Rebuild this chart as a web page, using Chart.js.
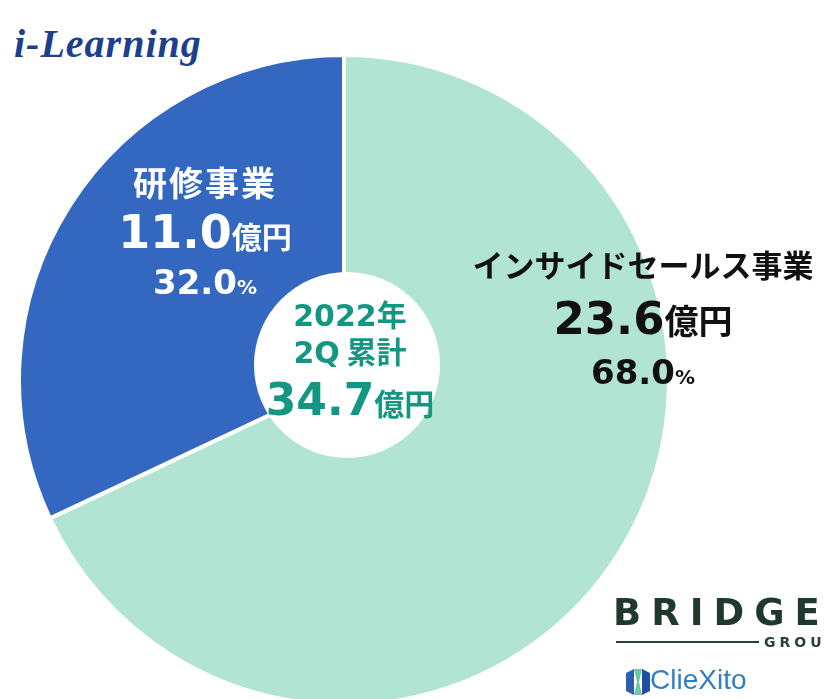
<!DOCTYPE html>
<html lang="ja">
<head>
<meta charset="utf-8">
<script src="https://cdn.jsdelivr.net/npm/chart.js@4"></script>
<style>
  html, body { margin: 0; padding: 0; background: #fff; width: 824px; height: 699px; overflow: hidden; }
  body { position: relative; font-family: "Noto Sans CJK JP", "DejaVu Sans", sans-serif; }
  #wrap { position: absolute; left: 17px; top: 53px; width: 654px; height: 654px; }
  .lbl { position: absolute; text-align: center; font-weight: bold; white-space: nowrap; line-height: 1; }
  .num { font-family: "DejaVu Sans", sans-serif; font-weight: bold; }
  .jp { font-family: "Noto Sans CJK JP", sans-serif; font-weight: bold; }
  #logo1 { position: absolute; left: 14px; top: 20px; font-family: "Liberation Serif", serif; font-style: italic; font-weight: bold; font-size: 40px; color: #1d3f8f; letter-spacing: 1px; }
  #bridge { position: absolute; left: 613px; top: 591px; font-family: "DejaVu Sans", sans-serif; font-weight: bold; font-size: 37px; color: #1f3a2d; letter-spacing: 10px; }
  #bridgeLine { position: absolute; left: 616px; top: 641px; width: 143px; height: 2px; background: #2a3f35; }
  #group { position: absolute; left: 764px; top: 634px; font-family: "DejaVu Sans", sans-serif; font-weight: bold; font-size: 14px; color: #2a3f35; letter-spacing: 4px; }
  #cliexito { position: absolute; left: 650px; top: 664px; font-family: "Liberation Sans", sans-serif; font-size: 28px; color: #2f7fc4; }
  #clieIcon { position: absolute; left: 626px; top: 669px; width: 24px; height: 26px; }
</style>
</head>
<body>
<div id="logo1">i-Learning</div>
<div id="wrap"><canvas id="pie"></canvas></div>

<div class="lbl" id="lblLeft" style="left:100px; top:165px; width:210px; color:#fff;">
  <div class="jp" style="font-size:34px; letter-spacing:2px;" id="nameLeft"></div>
  <div style="margin-top:10px;"><span class="num" style="font-size:46px;" id="amtLeft"></span><span class="jp" style="font-size:30px;">億円</span></div>
  <div style="margin-top:10px;"><span class="num" style="font-size:34px;" id="pctLeft"></span><span class="num" style="font-size:20px;">%</span></div>
</div>

<div class="lbl" id="lblRight" style="left:463px; top:248px; width:360px; color:#111;">
  <div class="jp" style="font-size:31px;" id="nameRight"></div>
  <div style="margin-top:17px;"><span class="num" style="font-size:45px;" id="amtRight"></span><span class="jp" style="font-size:34px;">億円</span></div>
  <div style="margin-top:14px;"><span class="num" style="font-size:34px;" id="pctRight"></span><span class="num" style="font-size:20px;">%</span></div>
</div>

<div class="lbl" id="lblCenter" style="left:250px; top:298px; width:200px; color:#139782;">
  <div style="font-size:30px;"><span class="num" id="yearTxt"></span><span class="jp">年</span></div>
  <div style="margin-top:4px; font-size:30px;"><span class="num">2Q</span><span class="jp"> 累計</span></div>
  <div style="margin-top:10px;"><span class="num" style="font-size:44px;" id="totalTxt"></span><span class="jp" style="font-size:30px;">億円</span></div>
</div>

<div id="bridge">BRIDGE</div>
<div id="bridgeLine"></div>
<div id="group">GROUP</div>
<svg id="clieIcon" viewBox="0 0 24 26">
  <polygon points="0,4 8,0 8,26 0,22" fill="#2c5fb0"/>
  <polygon points="8,0 16,0 13,13 16,26 8,26 11,13" fill="#6fc7a8"/>
  <polygon points="16,0 24,4 24,22 16,26" fill="#1f4f9e"/>
</svg>
<div id="cliexito">ClieXito</div>

<script>
const categories = ['インサイドセールス事業', '研修事業'];
const amounts = [23.6, 11.0];
const shares = [68.0, 32.0];
const totalAmount = 34.7;
const period = '2022';
const colors = ['#b1e4d2', '#3468c0'];

document.getElementById('nameRight').textContent = categories[0];
document.getElementById('amtRight').textContent = amounts[0].toFixed(1);
document.getElementById('pctRight').textContent = shares[0].toFixed(1);
document.getElementById('nameLeft').textContent = categories[1];
document.getElementById('amtLeft').textContent = amounts[1].toFixed(1);
document.getElementById('pctLeft').textContent = shares[1].toFixed(1);
document.getElementById('yearTxt').textContent = period;
document.getElementById('totalTxt').textContent = totalAmount.toFixed(1);

// white centre disc, sits a little above the pie centre like the original
const centreDisc = {
  id: 'centreDisc',
  afterDatasetsDraw(chart) {
    const arc = chart.getDatasetMeta(0).data[0];
    const ctx = chart.ctx;
    ctx.save();
    ctx.beginPath();
    ctx.arc(arc.x + 3, arc.y - 15, 93, 0, Math.PI * 2);
    ctx.fillStyle = '#fff';
    ctx.fill();
    ctx.restore();
  }
};

new Chart(document.getElementById('pie'), {
  type: 'pie',
  data: {
    labels: categories,
    datasets: [{
      data: shares,
      backgroundColor: colors,
      borderColor: '#fff',
      borderWidth: 4
    }]
  },
  options: {
    responsive: true,
    maintainAspectRatio: false,
    animation: false,
    layout: { padding: 0 },
    plugins: {
      legend: { display: false },
      tooltip: { enabled: false }
    }
  },
  plugins: [centreDisc]
});
</script>
</body>
</html>
